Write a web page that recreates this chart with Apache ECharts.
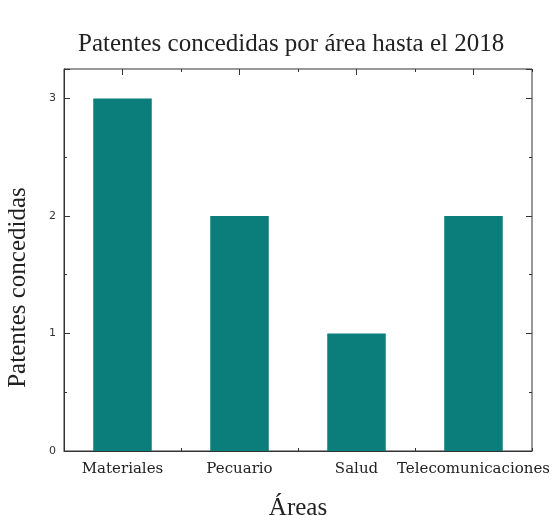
<!DOCTYPE html>
<html>
<head>
<meta charset="utf-8">
<script src="https://cdn.jsdelivr.net/npm/echarts@6/dist/echarts.min.js"></script>
<style>
html, body { margin: 0; padding: 0; background: #fff; }
#main { width: 560px; height: 515px; }
</style>
</head>
<body>
<div id="main"></div>
<script>
var areas = ['Materiales', 'Pecuario', 'Salud', 'Telecomunicaciones'];
var patentes = [3, 2, 1, 2];
var yTicks = [0, 1, 2, 3];

var serif = '"Liberation Serif", "DejaVu Serif", serif';
var tickStyle = {show: true, inside: true, length: 6, lineStyle: {color: '#333', width: 1}};

// ejes de categorías auxiliares solo para las marcas
function tickAxis(pos, center, len) {
	return {
		type: 'category',
		data: areas,
		position: pos,
		axisLine: {show: false},
		axisTick: {show: true, inside: true, alignWithLabel: center, interval: 0, length: len, lineStyle: {color: '#333'}},
		axisLabel: {show: false}
	};
}

var option = {
	backgroundColor: '#fff',
	animation: false,
	title: {
		text: 'Patentes concedidas por área hasta el 2018',
		left: 73,
		top: 27,
		textStyle: {fontFamily: serif, fontSize: 25, fontWeight: 'normal', color: '#222'}
	},
	grid: {
		left: 64,
		right: 28,
		top: 69,
		bottom: 64,
		outerBoundsMode: 'none',
		containLabel: false,
		show: true,
		borderColor: '#333',
		borderWidth: 1
	},
	xAxis: [
		{
			type: 'category',
			data: areas,
			position: 'bottom',
			name: 'Áreas',
			nameLocation: 'middle',
			nameGap: 45,
			nameTextStyle: {fontFamily: serif, fontSize: 25, color: '#222'},
			axisLine: {lineStyle: {color: '#333'}},
			axisTick: {show: true, inside: true, alignWithLabel: true, interval: 0, length: 6, lineStyle: {color: '#333'}},
			axisLabel: {fontFamily: '"DejaVu Serif", serif', fontSize: 15, color: '#222', margin: 11, interval: 0, hideOverlap: false}
		},
		tickAxis('bottom', false, 3),
		tickAxis('top', true, 6),
		tickAxis('top', false, 3)
	],
	yAxis: [
		{
			type: 'value',
			min: 0,
			max: 3.25,
			interval: 1,
			name: 'Patentes concedidas',
			nameLocation: 'middle',
			nameGap: 33,
			nameTextStyle: {fontFamily: serif, fontSize: 25, color: '#222', padding: [0, 55, 0, 0]},
			axisLine: {show: true, lineStyle: {color: '#333'}},
			axisTick: tickStyle,
			minorTick: {show: true, splitNumber: 2, length: 3, lineStyle: {color: '#333'}},
			splitLine: {show: false},
			axisLabel: {
				fontFamily: '"DejaVu Sans", sans-serif',
				fontSize: 11,
				color: '#333',
				margin: 8,
				formatter: function (v) {
					return yTicks.indexOf(v) >= 0 ? String(v) : '';
				}
			}
		},
		{
			type: 'value',
			min: 0,
			max: 3.25,
			interval: 1,
			position: 'right',
			axisLine: {show: false},
			axisTick: tickStyle,
			minorTick: {show: true, splitNumber: 2, length: 3, lineStyle: {color: '#333'}},
			splitLine: {show: false},
			axisLabel: {show: false}
		}
	],
	series: [
		{
			name: 'Patentes',
			type: 'bar',
			data: patentes,
			barWidth: '50%',
			itemStyle: {color: '#0b7d7a'}
		}
	]
};

var myChart = echarts.init(document.getElementById('main'));
myChart.setOption(option);
</script>
</body>
</html>
